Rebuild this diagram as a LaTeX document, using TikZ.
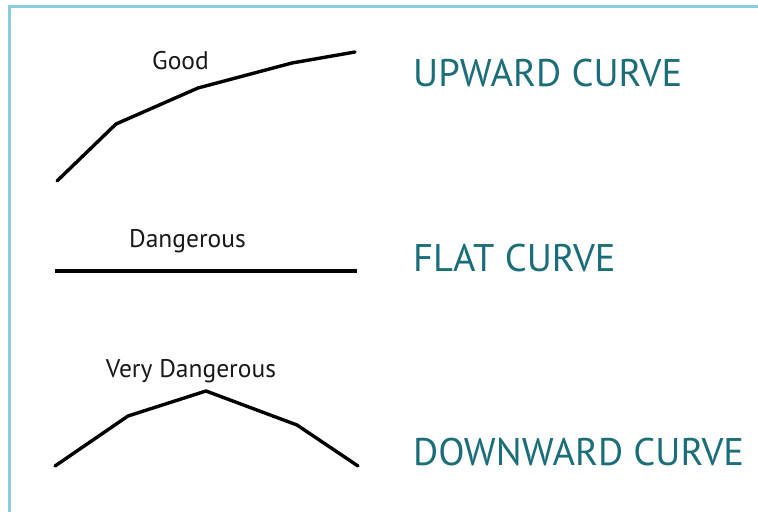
\documentclass[tikz,border=0pt]{standalone}
\usepackage{fontspec}
\setmainfont{PT Sans}
\definecolor{framecol}{RGB}{140,204,220}
\definecolor{tealtext}{RGB}{26,110,122}
\definecolor{smalltext}{RGB}{25,25,25}
\tikzset{
  curveline/.style={line width=3.4bp, black, line join=round, line cap=round},
  biglabel/.style={anchor=base west, inner sep=0pt, text=tealtext, font=\fontsize{38.5bp}{44bp}\selectfont},
  smalllabel/.style={anchor=base, inner sep=0pt, text=smalltext, font=\fontsize{25.5bp}{30bp}\selectfont},
}
\begin{document}
\begin{tikzpicture}[x=1bp,y=-1bp]
\useasboundingbox (0,0) rectangle (758,512);
\fill[white] (0,0) rectangle (758,512);
\draw[framecol, line width=3bp] (9,512) -- (9,7) -- (758,7);
% upward curve
\coordinate (u1) at (57,181);
\coordinate (u2) at (116,124);
\coordinate (u3) at (198,88);
\coordinate (u4) at (292,63);
\coordinate (u5) at (355,52);
\draw[curveline] (u1) -- (u2) -- (u3) -- (u4) -- (u5);
% flat curve
\coordinate (f1) at (55,271);
\coordinate (f2) at (357,271);
\draw[curveline, line cap=butt] (f1) -- (f2);
% downward curve
\coordinate (d1) at (55,466);
\coordinate (d2) at (128,416);
\coordinate (d3) at (206,391);
\coordinate (d4) at (297,425);
\coordinate (d5) at (358,466);
\draw[curveline] (d1) -- (d2) -- (d3) -- (d4) -- (d5);
% small labels
\node[smalllabel] (good) at (180.5,70) {Good};
\node[smalllabel] (dang) at (187.5,248) {Dangerous};
\node[smalllabel] (vdang) at (191,377) {Very Dangerous};
% big labels
\node[biglabel] (up) at (413,87) {UPWARD CURVE};
\node[biglabel] (flat) at (413,272) {FLAT CURVE};
\node[biglabel] (down) at (413,465) {DOWNWARD CURVE};
\end{tikzpicture}
\end{document}
